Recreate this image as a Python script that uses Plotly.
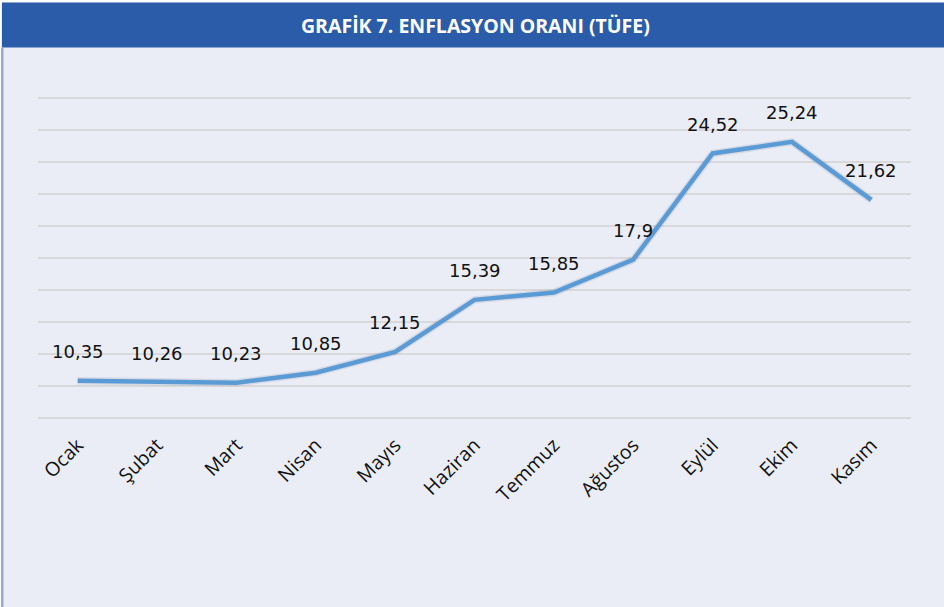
import plotly.graph_objects as go

months = ["Ocak", "Şubat", "Mart", "Nisan", "Mayıs", "Haziran", "Temmuz",
          "Ağustos", "Eylül", "Ekim", "Kasım"]
values = [10.35, 10.26, 10.23, 10.85, 12.15, 15.39, 15.85, 17.9, 24.52, 25.24, 21.62]
labels = ["10,35", "10,26", "10,23", "10,85", "12,15", "15,39", "15,85",
          "17,9", "24,52", "25,24", "21,62"]
title_text = "GRAFİK 7. ENFLASYON ORANI (TÜFE)"

W, H = 944, 607
# y range 7.9..28.1 at 16 px/unit -> 8 at y=418, 28 at y=98
L, R, T, B = 38, 33, 96, 187
pw, ph = W - L - R, H - T - B

def px_x(x):
    return (x - L) / pw

def px_y(y):
    return (H - B - y) / ph

fig = go.Figure()
fig.add_trace(go.Scatter(
    x=months, y=values, mode="lines",
    line=dict(color="rgba(40,60,90,0.10)", width=7.5),
    hoverinfo="skip", showlegend=False,
))
fig.add_trace(go.Scatter(
    x=months, y=values, mode="lines",
    line=dict(color="#5B9BD5", width=4.5),
    showlegend=False,
))

for m, v, t in zip(months, values, labels):
    fig.add_annotation(x=m, y=v, text=t, showarrow=False, yshift=29,
                       font=dict(size=18, color="#111111", family="DejaVu Sans, sans-serif"))

shapes = [
    dict(type="rect", xref="paper", yref="paper", x0=px_x(0), x1=px_x(W), y0=px_y(2.5), y1=px_y(0),
         fillcolor="white", line=dict(width=0), layer="below"),
    dict(type="rect", xref="paper", yref="paper", x0=px_x(0), x1=px_x(1), y0=px_y(H), y1=px_y(0),
         fillcolor="white", line=dict(width=0), layer="below"),
    dict(type="rect", xref="paper", yref="paper", x0=px_x(2), x1=px_x(W), y0=px_y(47.5), y1=px_y(2.5),
         fillcolor="#2A5CAA", line=dict(width=0), layer="below"),
    dict(type="rect", xref="paper", yref="paper", x0=px_x(1), x1=px_x(3.5), y0=px_y(H), y1=px_y(47.5),
         fillcolor="#9DA9C8", line=dict(width=0), layer="below"),
]

fig.add_annotation(xref="paper", yref="paper", x=px_x(475.5), y=px_y(25.5),
                   xanchor="center", yanchor="middle",
                   text="<b>" + title_text + "</b>",
                   showarrow=False, font=dict(size=19.5, color="white", family="Open Sans, sans-serif"))

fig.update_layout(
    width=W, height=H,
    margin=dict(l=L, r=R, t=T, b=B),
    paper_bgcolor="#EAEDF6", plot_bgcolor="#EAEDF6",
    shapes=shapes,
    xaxis=dict(type="category", categoryorder="array", categoryarray=months,
               range=[-0.5, 10.5], showgrid=False, zeroline=False, showline=False,
               tickangle=-45, ticks="", automargin=False, ticklabelstandoff=9,
               tickfont=dict(size=19.5, color="#111111", family="Open Sans, sans-serif")),
    yaxis=dict(range=[7.9, 28.1], dtick=2, tick0=0, showticklabels=False, showgrid=True,
               gridcolor="#D9D9DC", gridwidth=2, zeroline=False, showline=False, automargin=False),
)

fig.write_html("out.html", config={"displayModeBar": False},
               post_script="document.body.style.margin='0';")
